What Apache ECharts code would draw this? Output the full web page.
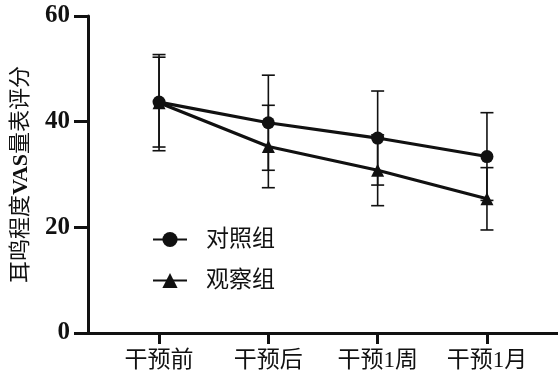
<!DOCTYPE html>
<html>
<head>
<meta charset="utf-8">
<script src="https://cdn.jsdelivr.net/npm/echarts@6/dist/echarts.min.js"></script>
<style>
  html, body { margin: 0; padding: 0; background: #fff; }
  #chart { width: 558px; height: 378px; }
</style>
</head>
<body>
<div id="chart"></div>
<script>
// Tinnitus VAS scores (mean ± SD) at four time points
const categories = ['干预前', '干预后', '干预1周', '干预1月'];
const controlMean = [43.7, 39.8, 36.9, 33.4];
const controlSD = [8.5, 9.0, 8.9, 8.3];
const observeMean = [43.6, 35.3, 30.8, 25.4];
const observeSD = [9.1, 7.8, 6.7, 5.9];
const yTicks = [0, 20, 40, 60];

const FONT = '"Liberation Serif", "Noto Sans CJK SC", serif';
const INK = '#111';

const toPoints = (means) => means.map((v, i) => [i, v]);
const toBars = (means, sds) => means.map((v, i) => [i, v - sds[i], v + sds[i]]);

function errorBar(params, api) {
  const x = api.value(0);
  const lo = api.coord([x, api.value(1)]);
  const hi = api.coord([x, api.value(2)]);
  const w = 6.5;
  const style = { stroke: INK, lineWidth: 1.6 };
  return {
    type: 'group',
    children: [
      { type: 'line', shape: { x1: lo[0], y1: lo[1], x2: hi[0], y2: hi[1] }, style },
      { type: 'line', shape: { x1: hi[0] - w, y1: hi[1], x2: hi[0] + w, y2: hi[1] }, style },
      { type: 'line', shape: { x1: lo[0] - w, y1: lo[1], x2: lo[0] + w, y2: lo[1] }, style }
    ]
  };
}

const chart = echarts.init(document.getElementById('chart'), null, { renderer: 'canvas' });

chart.setOption({
  backgroundColor: '#fff',
  animation: false,
  grid: { left: 88, right: 0, top: 16, bottom: 45, containLabel: false },
  legend: {
    orient: 'vertical',
    left: 152,
    top: 228,
    padding: 0,
    itemWidth: 34,
    itemHeight: 19,
    itemGap: 18,
    data: ['对照组', '观察组'],
    textStyle: { fontFamily: FONT, fontSize: 23, color: INK, padding: [0, 0, 0, 14] }
  },
  xAxis: {
    type: 'value',
    min: -0.65,
    max: 3.65,
    splitLine: { show: false },
    axisLine: { show: true, onZero: false, lineStyle: { color: INK, width: 3 } },
    axisTick: {
      show: true, length: 11, lineStyle: { color: INK, width: 3 },
      customValues: [0, 1, 2, 3]
    },
    axisLabel: {
      customValues: [0, 1, 2, 3],
      margin: 16,
      fontFamily: FONT,
      fontSize: 23,
      color: INK,
      formatter: (v) => categories[Math.round(v)]
    }
  },
  yAxis: {
    type: 'value',
    min: 0,
    max: 60,
    interval: 20,
    name: '耳鸣程度{b|VAS}量表评分',
    nameLocation: 'middle',
    nameGap: 56,
    nameRotate: 90,
    nameTextStyle: {
      fontFamily: FONT, fontSize: 22, color: INK,
      rich: { b: { fontFamily: FONT, fontSize: 22, fontWeight: 'bold', color: INK } }
    },
    splitLine: { show: false },
    axisLine: { show: true, onZero: false, lineStyle: { color: INK, width: 3 } },
    axisTick: { show: true, length: 14, lineStyle: { color: INK, width: 3 } },
    axisLabel: {
      margin: 18,
      fontFamily: FONT,
      fontSize: 25,
      fontWeight: 'bold',
      color: INK,
      customValues: yTicks
    }
  },
  series: [
    {
      name: 'ctrlErr', type: 'custom', renderItem: errorBar,
      data: toBars(controlMean, controlSD), z: 1, silent: true
    },
    {
      name: 'obsErr', type: 'custom', renderItem: errorBar,
      data: toBars(observeMean, observeSD), z: 1, silent: true
    },
    {
      name: '观察组', type: 'line', data: toPoints(observeMean),
      symbol: 'triangle', symbolSize: 13, z: 3,
      lineStyle: { color: INK, width: 3.2 },
      itemStyle: { color: INK }
    },
    {
      name: '对照组', type: 'line', data: toPoints(controlMean),
      symbol: 'circle', symbolSize: 13, z: 4,
      lineStyle: { color: INK, width: 3.2 },
      itemStyle: { color: INK }
    }
  ]
});
</script>
</body>
</html>
